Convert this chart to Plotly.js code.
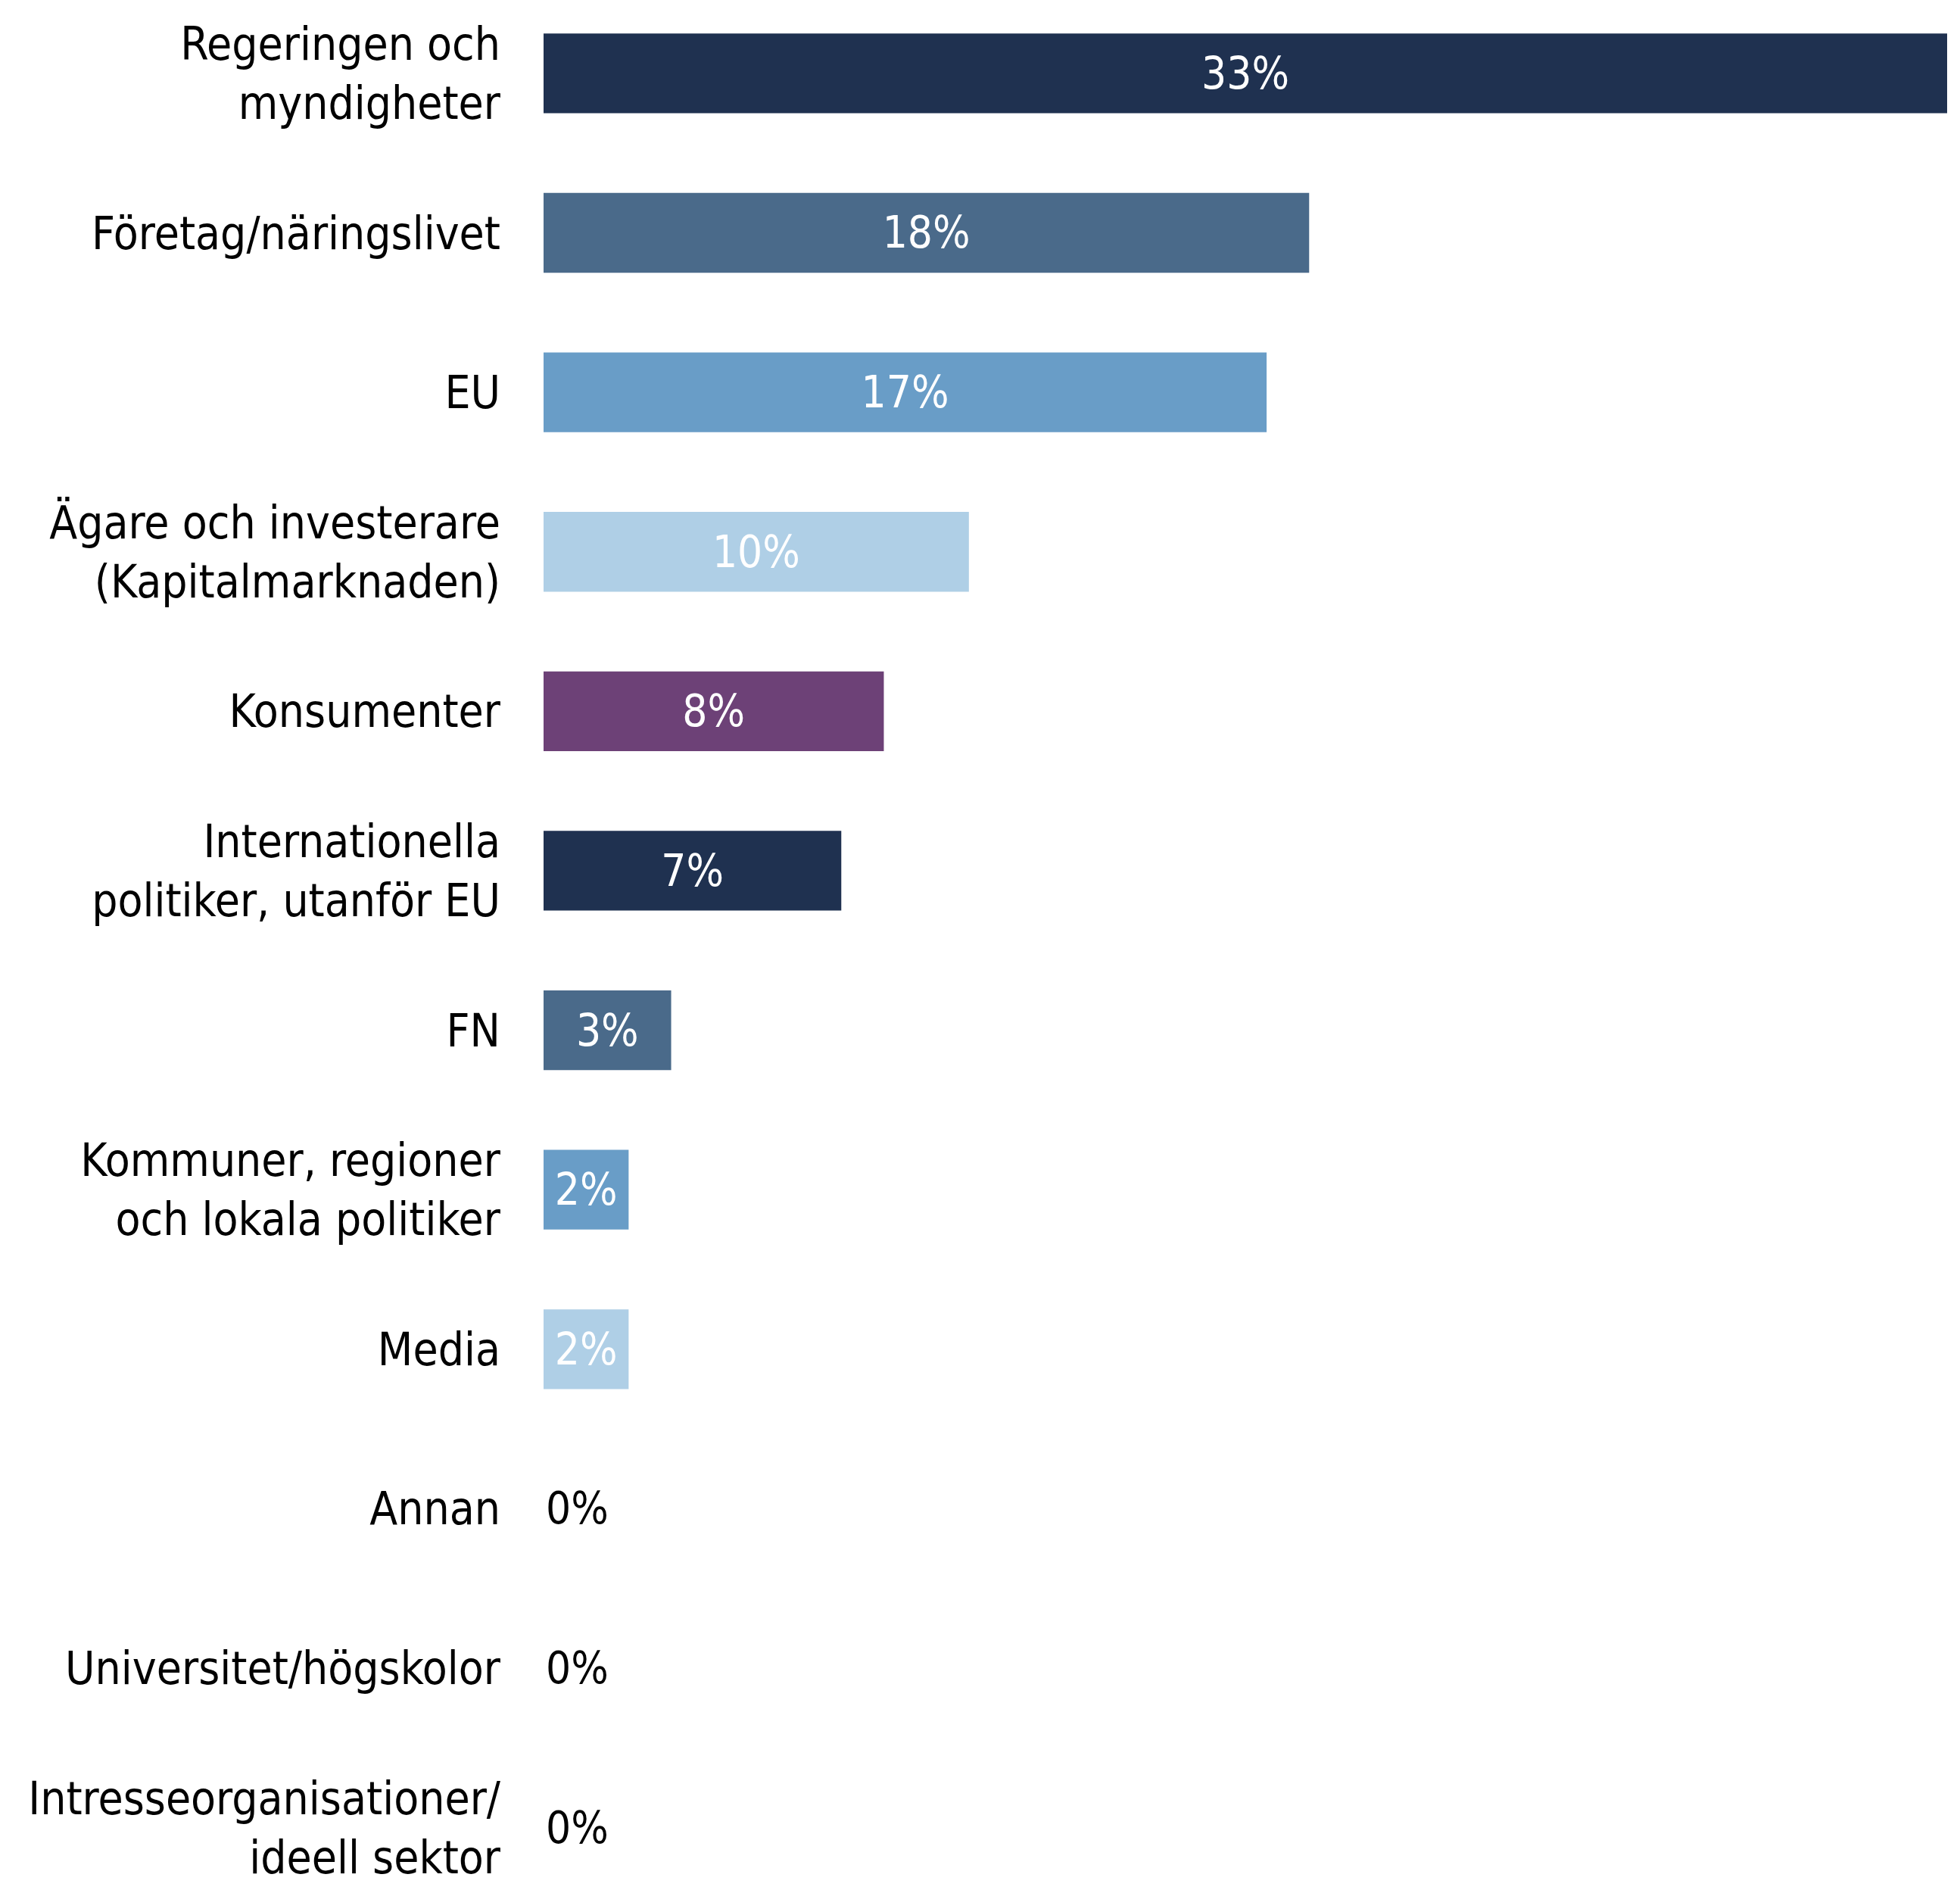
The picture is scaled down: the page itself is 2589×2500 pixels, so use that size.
<!DOCTYPE html>
<html>
<head>
<meta charset="utf-8">
<script src="https://cdn.plot.ly/plotly-3.0.1.min.js"></script>
<style>html,body{margin:0;padding:0;background:#fff;}</style>
</head>
<body>
<div id="chart" style="width:2589px;height:2500px;"></div>
<script>
const categories = [
  "Regeringen och<br>myndigheter",
  "Företag/näringslivet",
  "EU",
  "Ägare och investerare<br>(Kapitalmarknaden)",
  "Konsumenter",
  "Internationella<br>politiker, utanför EU",
  "FN",
  "Kommuner, regioner<br>och lokala politiker",
  "Media",
  "Annan",
  "Universitet/högskolor",
  "Intresseorganisationer/<br>ideell sektor"
];
const values = [33, 18, 17, 10, 8, 7, 3, 2, 2, 0, 0, 0];
const valueLabels = ["33%", "18%", "17%", "10%", "8%", "7%", "3%", "2%", "2%", "0%", "0%", "0%"];

const palette = ["#1f3150", "#4a6a8a", "#699dc7", "#afcfe6", "#6d4177"];
const barColors = values.map((v, i) => palette[i % palette.length]);
const textPos = values.map(v => v > 0 ? "inside" : "outside");
const textColors = values.map(v => v > 0 ? "#ffffff" : "#000000");

const FONT = "'Liberation Sans Narrow', 'DejaVu Sans Condensed', 'Liberation Sans', sans-serif";

const trace = {
  type: "bar",
  orientation: "h",
  x: values,
  y: categories,
  text: valueLabels,
  textposition: textPos,
  insidetextanchor: "middle",
  constraintext: "none",
  cliponaxis: false,
  textfont: {family: FONT, size: 58, color: textColors},
  marker: {color: barColors, line: {width: 0}},
  hoverinfo: "none"
};

const layout = {
  width: 2589,
  height: 2500,
  margin: {l: 718, r: 17, t: 0, b: 0, pad: 0},
  paper_bgcolor: "#ffffff",
  plot_bgcolor: "#ffffff",
  showlegend: false,
  bargap: 0.5,
  font: {family: FONT, color: "#000000"},
  xaxis: {
    visible: false,
    range: [0, 33],
    fixedrange: true
  },
  yaxis: {
    type: "category",
    range: [11.41, -0.46],
    showgrid: false,
    zeroline: false,
    showline: false,
    ticks: "",
    ticklabelstandoff: 56,
    tickfont: {family: FONT, size: 60, color: "#000000"},
    fixedrange: true
  }
};

Plotly.newPlot("chart", [trace], layout, {displayModeBar: false, staticPlot: true});
</script>
</body>
</html>
